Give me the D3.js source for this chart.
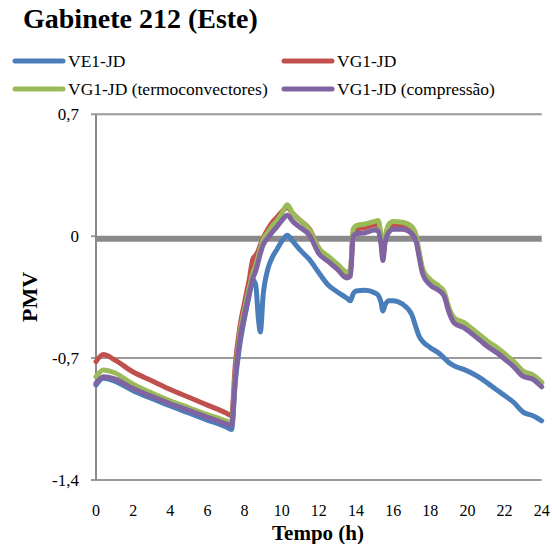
<!DOCTYPE html>
<html>
<head>
<meta charset="utf-8">
<script src="https://cdn.jsdelivr.net/npm/d3@7"></script>
<style>
  html, body { margin: 0; padding: 0; background: #fff; }
  svg text { font-family: "Liberation Serif", "Tinos", "DejaVu Serif", "Times New Roman", serif; }
</style>
</head>
<body>
<svg id="chart" width="552" height="544"></svg>
<script>
// Hours of the day (shared sampling for every series)
const hours = [0, 0.4, 1, 2, 3, 4, 5, 6, 7, 7.3, 7.5, 7.75, 8, 8.25, 8.45, 8.6, 8.75, 8.85, 9, 9.25,
  9.5, 9.75, 10, 10.3, 10.6, 11, 11.5, 12, 12.5, 13, 13.5, 13.7, 13.85, 14, 14.5, 15, 15.2, 15.35,
  15.45, 15.55, 15.75, 16, 16.5, 17, 17.25, 17.4, 17.6, 18, 18.5, 18.75, 19, 19.3, 19.8, 20.3, 20.7,
  21.1, 21.6, 22, 22.5, 23, 23.5, 24];

// PMV per scenario
const ve1 = [-0.855, -0.816, -0.832, -0.887, -0.932, -0.975, -1.015, -1.056, -1.095, -1.11, -0.84, -0.62,
  -0.47, -0.34, -0.25, -0.28, -0.48, -0.55, -0.34, -0.19, -0.12, -0.075, -0.03, 0.005, -0.03, -0.08,
  -0.135, -0.21, -0.28, -0.32, -0.355, -0.37, -0.33, -0.315, -0.31, -0.325, -0.34, -0.38, -0.43, -0.4,
  -0.37, -0.37, -0.39, -0.45, -0.53, -0.575, -0.605, -0.64, -0.675, -0.7, -0.725, -0.745, -0.765, -0.79,
  -0.815, -0.845, -0.885, -0.915, -0.955, -1.01, -1.03, -1.06];

const vg1 = [-0.72, -0.68, -0.71, -0.78, -0.83, -0.88, -0.925, -0.97, -1.015, -1.03, -0.74, -0.52,
  -0.38, -0.25, -0.13, -0.11, -0.08, -0.05, -0.01, 0.04, 0.08, 0.11, 0.14, 0.165, 0.13, 0.09, 0.04,
  -0.07, -0.12, -0.17, -0.215, -0.2, 0.02, 0.04, 0.05, 0.065, 0.06, -0.03, -0.12, -0.03, 0.05, 0.065,
  0.06, 0.04, -0.02, -0.1, -0.2, -0.255, -0.295, -0.33, -0.42, -0.475, -0.5, -0.54, -0.575, -0.61,
  -0.645, -0.68, -0.725, -0.78, -0.8, -0.84];

const vg1Termo = [-0.807, -0.768, -0.784, -0.85, -0.9, -0.945, -0.985, -1.025, -1.06, -1.07, -0.79, -0.56,
  -0.42, -0.3, -0.21, -0.17, -0.11, -0.07, -0.02, 0.02, 0.06, 0.09, 0.13, 0.18, 0.13, 0.09, 0.035,
  -0.07, -0.115, -0.16, -0.205, -0.19, 0.04, 0.06, 0.07, 0.085, 0.09, 0.0, -0.1, -0.02, 0.065, 0.085,
  0.08, 0.055, 0.0, -0.09, -0.19, -0.25, -0.29, -0.32, -0.41, -0.47, -0.495, -0.535, -0.57, -0.605,
  -0.64, -0.675, -0.72, -0.775, -0.795, -0.84];

const vg1Comp = [-0.845, -0.807, -0.82, -0.875, -0.92, -0.962, -1.0, -1.04, -1.078, -1.088, -0.82, -0.59,
  -0.45, -0.33, -0.24, -0.2, -0.14, -0.1, -0.05, -0.01, 0.025, 0.055, 0.09, 0.12, 0.085, 0.05, 0.005,
  -0.1, -0.145, -0.19, -0.24, -0.23, 0.0, 0.015, 0.02, 0.035, 0.03, -0.05, -0.14, -0.05, 0.02, 0.04,
  0.04, 0.015, -0.035, -0.12, -0.22, -0.28, -0.315, -0.345, -0.435, -0.5, -0.525, -0.565, -0.6, -0.635,
  -0.67, -0.705, -0.75, -0.805, -0.82, -0.865];

const seriesNames = ["VE1-JD", "VG1-JD", "VG1-JD (termoconvectores)", "VG1-JD (compressão)"];
const seriesColors = ["#4a7ebb", "#c0504d", "#9bbb59", "#8064a2"];
const seriesValues = [ve1, vg1, vg1Termo, vg1Comp];

const xTicks = d3.range(0, 25, 2);
const yTicks = [0.7, 0, -0.7, -1.4];
const yTickLabels = ["0,7", "0", "-0,7", "-1,4"];

const FONT = '"Liberation Serif", "Tinos", "DejaVu Serif", "Times New Roman", serif';

const svg = d3.select("#chart");
const margin = { left: 96, right: 10.3, top: 114.3, bottom: 64 };
const W = 552, H = 544;

const x = d3.scaleLinear().domain([0, 24]).range([margin.left, W - margin.right]);
const y = d3.scaleLinear().domain([-1.4, 0.7]).range([H - margin.bottom, margin.top]);

// Horizontal gridlines (0,7 / -0,7 / -1,4) with little ticks left of the axis
svg.append("g")
  .selectAll("line")
  .data(yTicks.filter(v => v !== 0))
  .join("line")
  .attr("x1", x(0) - 5).attr("x2", x(24))
  .attr("y1", d => y(d)).attr("y2", d => y(d))
  .attr("stroke", "#9a9a9a").attr("stroke-width", 2);

// Tick for zero
svg.append("line")
  .attr("x1", x(0) - 5).attr("x2", x(0))
  .attr("y1", y(0)).attr("y2", y(0))
  .attr("stroke", "#9a9a9a").attr("stroke-width", 2);

// Neutral comfort line (PMV = 0)
svg.append("line")
  .attr("x1", x(0)).attr("x2", x(24))
  .attr("y1", y(0) + 2.5).attr("y2", y(0) + 2.5)
  .attr("stroke", "#8a8a8a").attr("stroke-width", 6);

// Vertical axis line
svg.append("line")
  .attr("x1", x(0)).attr("x2", x(0))
  .attr("y1", y(0.7)).attr("y2", y(-1.4))
  .attr("stroke", "#8a8a8a").attr("stroke-width", 2);

// Y tick labels
svg.append("g")
  .selectAll("text")
  .data(yTicks)
  .join("text")
  .attr("x", 79)
  .attr("y", d => y(d) + 6)
  .attr("text-anchor", "end")
  .attr("font-family", FONT)
  .attr("font-size", 17)
  .text((d, i) => yTickLabels[i]);

// X tick labels
svg.append("g")
  .selectAll("text")
  .data(xTicks)
  .join("text")
  .attr("x", d => x(d))
  .attr("y", 516)
  .attr("text-anchor", "middle")
  .attr("font-family", FONT)
  .attr("font-size", 16)
  .text(d => d);

// Series lines
const line = d3.line()
  .x((d, i) => x(hours[i]))
  .y(d => y(d))
  .curve(d3.curveMonotoneX);

svg.append("g")
  .selectAll("path")
  .data(seriesValues)
  .join("path")
  .attr("d", d => line(d))
  .attr("fill", "none")
  .attr("stroke", (d, i) => seriesColors[i])
  .attr("stroke-width", 5)
  .attr("stroke-linejoin", "round")
  .attr("stroke-linecap", "round");

// Title
svg.append("text")
  .attr("x", 23).attr("y", 28)
  .attr("font-family", FONT)
  .attr("font-size", 28).attr("font-weight", "bold")
  .text("Gabinete 212 (Este)");

// Legend (two columns, two rows)
const legendPos = [[13, 61], [282, 61], [13, 89], [282, 89]];
const legend = svg.append("g")
  .selectAll("g")
  .data(seriesNames)
  .join("g")
  .attr("transform", (d, i) => `translate(${legendPos[i][0]},${legendPos[i][1]})`);
legend.append("line")
  .attr("x1", 2).attr("x2", 50)
  .attr("stroke", (d, i) => seriesColors[i])
  .attr("stroke-width", 5)
  .attr("stroke-linecap", "round");
legend.append("text")
  .attr("x", 55).attr("y", 5.5)
  .attr("font-family", FONT)
  .attr("font-size", 17.5)
  .text(d => d);

// Axis titles
svg.append("text")
  .attr("x", 318).attr("y", 540)
  .attr("text-anchor", "middle")
  .attr("font-family", FONT)
  .attr("font-size", 21).attr("font-weight", "bold")
  .text("Tempo (h)");

svg.append("text")
  .attr("transform", "translate(37,297) rotate(-90)")
  .attr("text-anchor", "middle")
  .attr("font-family", FONT)
  .attr("font-size", 22).attr("font-weight", "bold")
  .text("PMV");
</script>
</body>
</html>
